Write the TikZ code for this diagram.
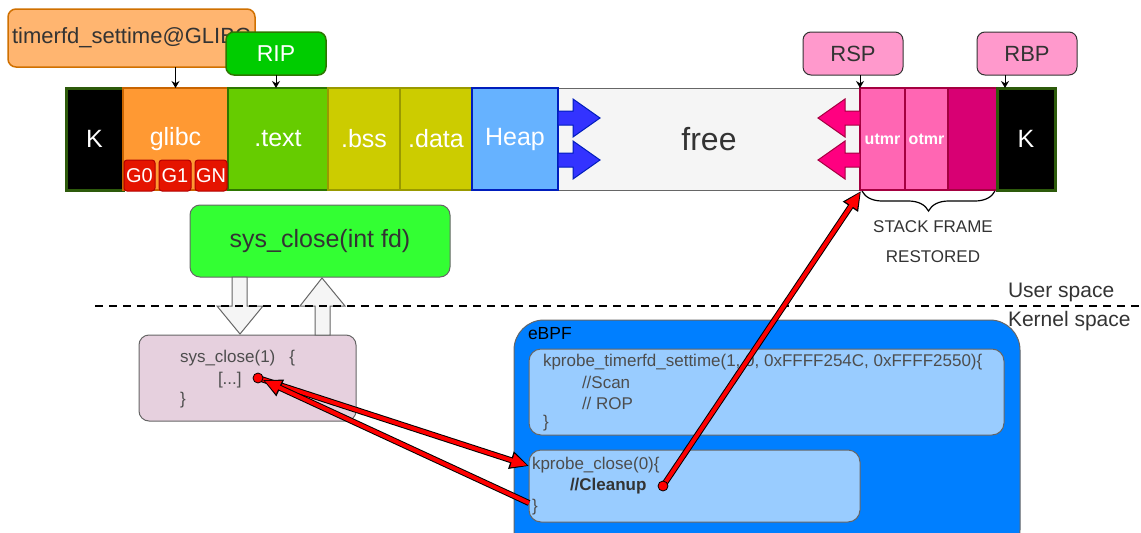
\documentclass[tikz,border=0pt]{standalone}
\usepackage{fontspec}
\setmainfont{Liberation Sans}
\usetikzlibrary{arrows.meta,decorations.pathreplacing,calc}
\definecolor{orfill}{HTML}{FFB570}
\definecolor{ordraw}{HTML}{D07000}
\definecolor{ripfill}{HTML}{00CC00}
\definecolor{ripdraw}{HTML}{2D7600}
\definecolor{kdraw}{HTML}{2D5A0B}
\definecolor{glibcfill}{HTML}{FF9933}
\definecolor{glibcdraw}{HTML}{C86400}
\definecolor{gfill}{HTML}{E51400}
\definecolor{gdraw}{HTML}{B20000}
\definecolor{textfill}{HTML}{66CC00}
\definecolor{bssfill}{HTML}{CCCC00}
\definecolor{bssdraw}{HTML}{999900}
\definecolor{heapfill}{HTML}{66B2FF}
\definecolor{heapdraw}{HTML}{001DBC}
\definecolor{freefill}{HTML}{F5F5F5}
\definecolor{greyd}{HTML}{666666}
\definecolor{txt}{HTML}{333333}
\definecolor{bluearr}{HTML}{3333FF}
\definecolor{pinkarr}{HTML}{FF0080}
\definecolor{pinkdraw}{HTML}{A50040}
\definecolor{stk}{HTML}{FF66B3}
\definecolor{stkdark}{HTML}{D80073}
\definecolor{regfill}{HTML}{FF99CC}
\definecolor{sysfill}{HTML}{33FF33}
\definecolor{kfill}{HTML}{E6D0DE}
\definecolor{ebpf}{HTML}{007FFF}
\definecolor{kprobe}{HTML}{99CCFF}
\definecolor{codec}{HTML}{4D4D4D}
\newcommand\fsz[1]{\fontsize{#1}{#1}\selectfont}
\begin{document}
\begin{tikzpicture}[x=1pt,y=-1pt,
  cell/.style={draw, inner sep=0pt, outer sep=0pt, anchor=north west, line width=1.5pt},
  rbox/.style={cell, rounded corners=8pt},
  lbl/.style={inner sep=0pt, outer sep=0pt},
  codetxt/.style={lbl, anchor=west, text=codec, font=\fsz{17}},
  ptr/.style={-{Stealth[length=7pt,width=8pt]}, line width=1pt, black},
  blk/.style={line width=1pt, line join=miter},
  reddot/.style={circle, fill=red, draw=black, line width=0.8pt, minimum size=10pt, inner sep=0pt},
  redo/.style={line width=6pt, draw=black, -{Triangle[length=19pt,width=17pt]}},
  redi/.style={line width=4pt, draw=red, -{Triangle[length=16pt,width=13pt]}, shorten >=1.6pt},
  gbox/.style={cell, rounded corners=3pt, fill=gfill, draw=gdraw, line width=1pt, minimum height=31pt, text=white, font=\fsz{20}},
]
\useasboundingbox (0,0) rectangle (1141,533);

% top labels
\node[rbox, fill=orfill, draw=ordraw, minimum width=247pt, minimum height=58pt, text=txt, font=\fsz{22}] (timerfd) at (8,9) {timerfd\_settime@GLIBC};
\node[rbox, fill=ripfill, draw=ripdraw, minimum width=100pt, minimum height=43pt, text=white, font=\fsz{23}] (rip) at (226,32) {RIP};
\node[rbox, fill=regfill, draw=txt, line width=1pt, minimum width=100pt, minimum height=43pt, text=txt, font=\fsz{22}] (rsp) at (803,32) {RSP};
\node[rbox, fill=regfill, draw=txt, line width=1pt, minimum width=100pt, minimum height=43pt, text=txt, font=\fsz{22}] (rbp) at (977,32) {RBP};

% memory strip
\node[cell, fill=freefill, draw=greyd, line width=1pt, minimum width=302pt, minimum height=102pt, text=txt, font=\fsz{32}] (free) at (558,88) {free};
\node[cell, fill=black, draw=kdraw, line width=3pt, minimum width=57pt, minimum height=102pt, text=white, font=\fsz{25}] (k1) at (66,88) {K};
\node[cell, fill=glibcfill, draw=glibcdraw, line width=2pt, minimum width=105pt, minimum height=102pt, text=white, font=\fsz{25}] (glibc) at (123,88) {glibc};
\node[cell, fill=textfill, draw=ripdraw, line width=2.5pt, minimum width=100pt, minimum height=102pt, text=white, font=\fsz{25}] (text) at (228,88) {.text};
\node[cell, fill=bssfill, draw=bssdraw, line width=2pt, minimum width=72pt, minimum height=102pt, text=white, font=\fsz{25}] (bss) at (328,88) {.bss};
\node[cell, fill=bssfill, draw=bssdraw, line width=2pt, minimum width=72pt, minimum height=102pt, text=white, font=\fsz{25}] (data) at (400,88) {.data};
\node[cell, fill=heapfill, draw=heapdraw, line width=2pt, minimum width=86pt, minimum height=102pt, text=white, font=\fsz{25}] (heap) at (472,88) {Heap};
\node[cell, fill=stk, draw=pinkdraw, line width=1.5pt, minimum width=45pt, minimum height=102pt, text=white, font=\bfseries\fsz{16}] (utmr) at (860,88) {utmr};
\node[cell, fill=stk, draw=pinkdraw, line width=1.5pt, minimum width=43pt, minimum height=102pt, text=white, font=\bfseries\fsz{16}] (otmr) at (905,88) {otmr};
\node[cell, fill=stkdark, draw=pinkdraw, line width=1.5pt, minimum width=49pt, minimum height=102pt] (s3) at (948,88) {};
\node[cell, fill=black, draw=kdraw, line width=3pt, minimum width=58pt, minimum height=102pt, text=white, font=\fsz{25}] (k2) at (997,88) {K};

% gadget boxes
\node[gbox, minimum width=31pt] (g0) at (124,160) {G0};
\node[gbox, minimum width=32pt] (g1) at (159,160) {G1};
\node[gbox, minimum width=32pt] (gn) at (195,160) {GN};

% growth arrows
\draw[blk, fill=bluearr, draw=heapdraw] (558,111) -- (573,111) -- (573,99) -- (600,118) -- (573,137) -- (573,125) -- (558,125) -- cycle;
\draw[blk, fill=bluearr, draw=heapdraw] (558,153) -- (573,153) -- (573,141) -- (600,160) -- (573,179) -- (573,167) -- (558,167) -- cycle;
\draw[blk, fill=pinkarr, draw=pinkdraw] (860,111) -- (845,111) -- (845,99) -- (818,118) -- (845,137) -- (845,125) -- (860,125) -- cycle;
\draw[blk, fill=pinkarr, draw=pinkdraw] (860,153) -- (845,153) -- (845,141) -- (818,160) -- (845,179) -- (845,167) -- (860,167) -- cycle;

% pointers
\draw[ptr] (glibc.north |- timerfd.south) -- (glibc.north);
\draw[ptr] (rip.south) -- (rip.south |- text.north);
\draw[ptr] (utmr.north west |- rsp.south) -- (utmr.north west);
\coordinate (rbpt) at ($(k2.north west)+(8,0)$);
\draw[ptr] (rbpt |- rbp.south) -- (rbpt);

% brace
\draw[decorate, decoration={brace, mirror, amplitude=20pt}, line width=1.2pt] ($(utmr.south west)+(2,1)$) -- ($(s3.south east)+(-2,1)$);
\node[lbl, text=txt, font=\fsz{17}] (sf1) at (933,227) {STACK FRAME};
\node[lbl, text=txt, font=\fsz{17}] (sf2) at (933,257) {RESTORED};

% syscall
\node[cell, rounded corners=10pt, fill=sysfill, draw=greyd, line width=1pt, minimum width=260pt, minimum height=72pt, text=txt, font=\fsz{25}] (sys) at (190,205) {sys\_close(int fd)};
\node[cell, rounded corners=10pt, fill=kfill, draw=greyd, line width=1pt, minimum width=217pt, minimum height=86pt] (ksys) at (139,335) {};
\draw[blk, fill=freefill, draw=greyd] (232,277) -- (247,277) -- (247,306) -- (263,306) -- (240,334) -- (217,306) -- (232,306) -- cycle;
\draw[blk, fill=freefill, draw=greyd] (315,335) -- (330,335) -- (330,306) -- (345,306) -- (322,278) -- (300,306) -- (315,306) -- cycle;
\node[codetxt] (ks1) at (180,358) {sys\_close(1)\hspace{14pt}\{};
\node[codetxt] (ks2) at (218,380) {[...]};
\node[codetxt] (ks3) at (180,400) {\}};

% user / kernel separator
\coordinate (dl) at (95,306);
\coordinate (dr) at (1141,306);
\draw[line width=2.3pt, dash pattern=on 8pt off 6pt] (dl) -- (dr);
\node[lbl, anchor=west, text=txt, font=\fsz{21}] (us) at (1008,292) {User space};
\node[lbl, anchor=west, text=txt, font=\fsz{21}] (ks) at (1008,321) {Kernel space};

% eBPF
\node[cell, rounded corners=30pt, fill=ebpf, draw=greyd, line width=1pt, minimum width=506pt, minimum height=240pt] (ebpf) at (514,320) {};
\node[lbl, anchor=west, font=\fsz{17.5}] (ebpfl) at (528,334) {eBPF};
\node[cell, rounded corners=12pt, fill=kprobe, draw=greyd, line width=1pt, minimum width=475pt, minimum height=86pt] (kt) at (529,349) {};
\node[codetxt] (kt1) at (543,362) {kprobe\_timerfd\_settime(1, 0, 0xFFFF254C, 0xFFFF2550)\{};
\node[codetxt] (kt2) at (582,382) {//Scan};
\node[codetxt] (kt3) at (582,403) {// ROP};
\node[codetxt] (kt4) at (543,423) {\}};
\node[cell, rounded corners=12pt, fill=kprobe, draw=greyd, line width=1pt, minimum width=331pt, minimum height=72pt] (kc) at (529,450) {};
\node[codetxt] (kc1) at (532,465) {kprobe\_close(0)\{};
\node[codetxt, text=txt] (kc2) at (570,486) {\textbf{//Cleanup}};
\node[codetxt] (kc3) at (532,507) {\}};

% red flow arrows
\coordinate (d1c) at (258,378);
\coordinate (d2c) at (663,486);
\coordinate (kcin) at ($(kc.north west)+(0,16)$);
\coordinate (kcout) at ($(kc.north west)+(0,53)$);
\coordinate (d1in) at ($(d1c)+(5,2)$);
\coordinate (frame) at ($(utmr.south west)+(1,1)$);
\draw[redo] (d1c) -- (kcin);
\draw[redi] (d1c) -- (kcin);
\draw[redo] (kcout) -- (d1in);
\draw[redi] (kcout) -- (d1in);
\draw[redo] (d2c) -- (frame);
\draw[redi] (d2c) -- (frame);
\node[reddot] (d1) at (d1c) {};
\node[reddot] (d2) at (d2c) {};
\end{tikzpicture}
\end{document}
